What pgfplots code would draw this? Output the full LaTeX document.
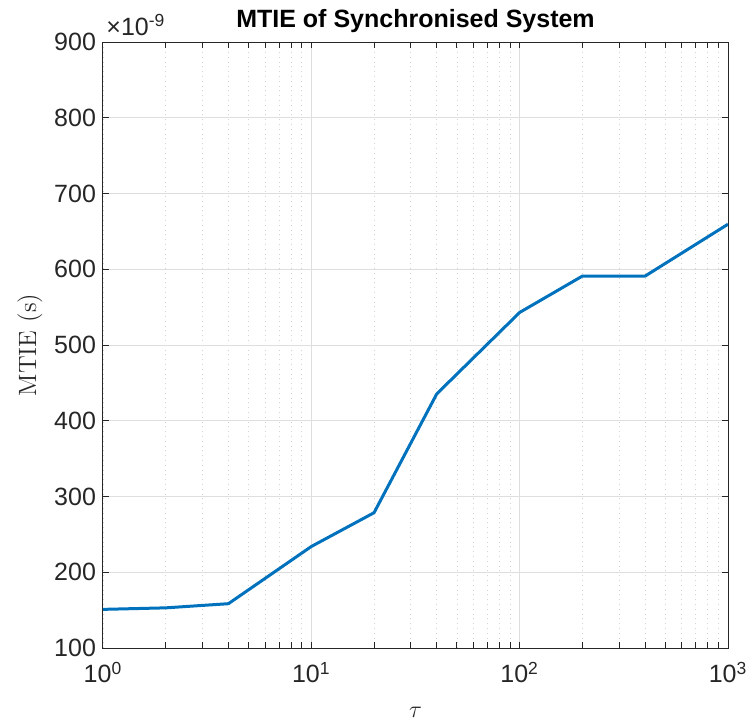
\documentclass[border=0pt]{standalone}
\usepackage{pgfplots}
\pgfplotsset{compat=1.18}
\usepackage{fontspec}
\newfontfamily\arial{Liberation Sans}
\definecolor{mblue}{HTML}{0072BD}
\definecolor{axgray}{HTML}{262626}
\definecolor{majgrid}{HTML}{DEDEDE}
\definecolor{mingrid}{HTML}{D2D2D2}
\begin{document}
\begin{tikzpicture}
\useasboundingbox (-51.5pt,-37pt) rectangle (325.5pt,324pt);
\begin{axis}[
  scale only axis,
  clip mode=individual,
  width=312.5pt, height=303pt,
  xmode=log,
  xmin=1, xmax=1000,
  ymin=100, ymax=900,
  xtick={1,10,100,1000},
  xticklabels={10\textsuperscript{0},10\textsuperscript{1},10\textsuperscript{2},10\textsuperscript{3}},
  ytick={100,200,...,900},
  /pgf/number format/assume math mode=true,
  ticklabel style={font=\arial\fontsize{12.5}{15}\selectfont, text=axgray},
  xticklabel style={yshift=-3.5pt},
  axis line style={color=axgray, line width=0.5pt},
  tick style={color=axgray, line width=0.5pt},
  major tick length=3pt, minor tick length=3pt,
  tick align=inside,
  xmajorgrids, ymajorgrids, xminorgrids,
  major grid style={color=majgrid, line width=0.5pt},
  minor grid style={color=mingrid, dotted, line width=0.4pt},
  xlabel={$\tau$},
  xlabel style={at={(axis description cs:0.5,-0.1056)}, anchor=center, font=\fontsize{12}{14}\selectfont, text=axgray},
  ylabel={MTIE (s)},
  ylabel style={at={(axis description cs:-0.1168,0.5)}, anchor=center, font=\fontsize{12.5}{15}\selectfont, text=axgray},
]
\addplot[color=mblue, line width=1.5pt, line join=round] coordinates {
  (1,151) (2,153) (4,158.5) (10,234) (20,278.6) (40,435.5)
  (100,543) (200,591) (400,591) (1000,659.5)
};
\node[anchor=center, font=\arial\bfseries\fontsize{12.5}{14}\selectfont, text=black] at (rel axis cs:0.5,1) [yshift=10.5pt] {MTIE of Synchronised System};
\node[anchor=base west, font=\arial\fontsize{12.5}{15}\selectfont, text=axgray, inner sep=0pt] at (rel axis cs:0,1) [xshift=1.5pt, yshift=3.5pt] {×10\textsuperscript{-9}};
\end{axis}
\end{tikzpicture}
\end{document}
